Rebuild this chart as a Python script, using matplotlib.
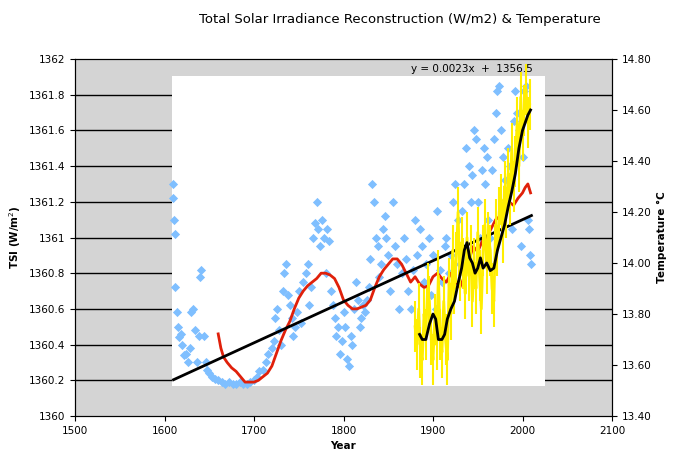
import matplotlib
matplotlib.use("Agg")
import matplotlib.pyplot as plt
import numpy as np

# TSI scatter (left axis): (year, value) pairs
tsi_points = [(1610,1361.3),(1610,1361.22),(1611,1361.1),(1612,1361.02),(1612,1360.72),(1614,1360.58),(1615,1360.5),
 (1616,1360.44),(1618,1360.46),(1620,1360.4),(1622,1360.34),(1624,1360.35),(1626,1360.3),(1628,1360.38),(1630,1360.58),
 (1632,1360.6),(1634,1360.48),(1636,1360.3),(1638,1360.45),(1640,1360.78),(1641,1360.82),(1644,1360.45),(1646,1360.3),
 (1648,1360.26),(1650,1360.24),(1653,1360.22),(1656,1360.21),(1660,1360.2),(1664,1360.19),(1668,1360.18),(1672,1360.19),
 (1676,1360.18),(1680,1360.18),(1684,1360.19),(1688,1360.18),(1692,1360.18),(1696,1360.19),(1700,1360.2),(1703,1360.22),
 (1706,1360.25),(1710,1360.26),(1713,1360.3),(1716,1360.35),(1720,1360.38),(1722,1360.42),(1724,1360.55),(1726,1360.6),
 (1728,1360.48),(1730,1360.4),(1732,1360.7),(1734,1360.8),(1736,1360.85),(1738,1360.68),(1740,1360.62),(1742,1360.55),
 (1744,1360.45),(1746,1360.5),(1748,1360.58),(1750,1360.7),(1752,1360.52),(1755,1360.75),(1758,1360.8),(1760,1360.85),
 (1762,1360.62),(1764,1360.72),(1766,1361.0),(1768,1361.08),(1770,1361.2),(1772,1361.05),(1774,1360.95),(1776,1361.1),
 (1778,1361.0),(1780,1360.8),(1782,1361.05),(1784,1360.98),(1786,1360.7),(1788,1360.62),(1790,1360.55),(1792,1360.45),
 (1794,1360.5),(1796,1360.35),(1798,1360.42),(1800,1360.58),(1802,1360.5),(1804,1360.32),(1806,1360.28),(1808,1360.45),
 (1810,1360.4),(1812,1360.6),(1814,1360.75),(1816,1360.65),(1818,1360.5),(1820,1360.55),(1822,1360.62),(1824,1360.58),
 (1826,1360.65),(1828,1360.72),(1830,1360.88),(1832,1361.3),(1834,1361.2),(1836,1361.0),(1838,1360.95),(1840,1360.78),
 (1842,1360.85),(1844,1361.05),(1846,1361.12),(1848,1361.0),(1850,1360.9),(1852,1360.7),(1855,1361.2),(1858,1360.95),
 (1860,1360.85),(1862,1360.6),(1865,1360.8),(1868,1361.0),(1870,1360.88),(1872,1360.7),(1875,1360.6),(1878,1360.82),
 (1880,1361.1),(1882,1360.9),(1885,1361.05),(1888,1360.95),(1890,1360.75),(1892,1360.85),(1895,1361.0),(1898,1360.68),
 (1900,1360.9),(1903,1360.6),(1905,1361.15),(1908,1360.82),(1910,1360.75),(1913,1360.95),(1915,1361.0),(1918,1360.8),
 (1920,1360.9),(1922,1361.2),(1925,1361.3),(1928,1361.1),(1930,1360.85),(1932,1361.15),(1935,1361.3),(1937,1361.5),
 (1940,1361.4),(1942,1361.2),(1944,1361.35),(1946,1361.6),(1948,1361.55),(1950,1361.2),(1952,1361.0),(1955,1361.38),
 (1957,1361.5),(1958,1361.3),(1960,1361.45),(1962,1361.1),(1964,1361.0),(1966,1361.38),(1968,1361.55),(1970,1361.7),
 (1972,1361.82),(1974,1361.85),(1976,1361.6),(1978,1361.45),(1980,1361.32),(1982,1361.2),(1984,1361.5),(1986,1361.4),
 (1988,1361.05),(1990,1361.65),(1992,1361.82),(1994,1361.7),(1996,1361.6),(1998,1360.95),(2000,1361.45),(2002,1361.82),
 (2004,1361.85),(2006,1361.1),(2007,1361.05),(2008,1360.9),(2010,1360.85)]
tsi_years = [p[0] for p in tsi_points]
tsi_vals = [p[1] for p in tsi_points]

# red smoothed series (left axis)
red_years = [1660,1663,1666,1670,1675,1680,1685,1690,1695,1700,1705,1710,1715,1720,1725,1730,1735,1740,1745,1750,1755,1760,1765,1770,1775,1780,1785,1790,1795,1800,1805,1810,1815,1820,1825,1830,1835,1840,1845,1850,1855,1860,1865,1870,1875,1880,1885,1890,1895,1900,1905,1910,1915,1920,1925,1930,1935,1940,1945,1950,1955,1960,1965,1970,1975,1980,1985,1990,1995,2000,2003,2006,2009]
red_vals = [1360.46,1360.38,1360.33,1360.3,1360.27,1360.25,1360.22,1360.19,1360.19,1360.19,1360.2,1360.22,1360.24,1360.28,1360.35,1360.42,1360.48,1360.53,1360.6,1360.66,1360.7,1360.73,1360.75,1360.77,1360.8,1360.8,1360.79,1360.77,1360.72,1360.65,1360.62,1360.6,1360.6,1360.61,1360.62,1360.65,1360.72,1360.78,1360.82,1360.85,1360.88,1360.88,1360.85,1360.8,1360.75,1360.78,1360.74,1360.72,1360.73,1360.78,1360.8,1360.77,1360.75,1360.8,1360.76,1360.72,1360.78,1360.87,1360.95,1360.92,1360.98,1361.0,1361.05,1361.1,1361.12,1361.15,1361.2,1361.18,1361.22,1361.25,1361.28,1361.3,1361.25]

# yellow annual temperatures (right axis)
yel_years = list(range(1880, 2009, 2))
yel_vals = [13.75,13.68,13.82,13.65,13.62,13.80,13.72,13.90,13.85,13.70,13.62,13.78,13.68,13.95,13.72,13.65,13.85,13.70,13.62,13.92,13.80,14.05,13.90,14.02,14.20,13.95,14.08,14.00,13.88,14.10,13.95,14.05,13.85,14.00,13.90,14.12,13.95,13.82,14.05,14.15,13.98,14.10,14.05,13.90,13.85,14.15,14.05,14.20,14.25,14.10,14.30,14.20,14.35,14.25,14.45,14.30,14.40,14.55,14.38,14.65,14.50,14.60,14.68,14.55,14.62]
yel_err = [0.10] * len(yel_vals)

# black smoothed temperature (right axis)
blk_years = [1885,1888,1892,1896,1900,1903,1906,1910,1913,1916,1920,1924,1928,1932,1935,1938,1941,1944,1947,1950,1953,1956,1960,1964,1968,1972,1976,1980,1984,1988,1992,1996,2000,2003,2006,2009]
blk_vals = [13.72,13.70,13.70,13.76,13.80,13.78,13.70,13.70,13.72,13.78,13.82,13.85,13.92,13.98,14.05,14.08,14.02,14.00,13.96,13.98,14.02,13.98,14.00,13.97,13.98,14.05,14.10,14.15,14.22,14.28,14.35,14.45,14.52,14.55,14.58,14.60]

fig = plt.figure(figsize=(6.86, 4.70), dpi=100)
ax = fig.add_axes([75/686, 1-416/470, (612-75)/686, (416-59)/470])
ax.set_facecolor("#d4d4d4")
ax.set_xlim(1500, 2100)
ax.set_ylim(1360, 1362)
yt = np.arange(1360, 1362.01, 0.2)
ax.set_yticks(yt)
ax.set_yticklabels([("%g" % round(v, 1)) for v in yt])
ax.set_xticks(range(1500, 2101, 100))
for v in yt[1:-1]:
    ax.axhline(v, color="black", lw=1, zorder=0.5)
wr = plt.Rectangle(((172-75)/537, (416-386)/357), (545-172)/537, (386-76)/357,
                   transform=ax.transAxes, facecolor="white", edgecolor="none", zorder=0.8)
ax.add_patch(wr)
ax.scatter(tsi_years, tsi_vals, marker="D", s=22, color="#7fbfff", zorder=2, linewidths=0)
ax.plot(red_years, red_vals, color="#e0200a", lw=2, zorder=4)
xs = np.array([1610, 2010])
ax.plot(xs, 0.0023*xs + 1356.5, color="black", lw=2, zorder=5)
ax.text(1875, 1361.97, "y = 0.0023x  +  1356.5", fontsize=7.5, ha="left", va="top")
ax.set_xlabel("Year", fontsize=7.5, fontweight="bold")
ax.set_ylabel("TSI (W/m$^2$)", fontsize=7.5, fontweight="bold")
ax.tick_params(labelsize=7.5)

ax2 = ax.twinx()
ax2.set_ylim(13.4, 14.8)
ax2.set_yticks(np.arange(13.4, 14.81, 0.2))
ax2.set_yticklabels(["%.2f" % v for v in np.arange(13.4, 14.81, 0.2)])
ax2.errorbar(yel_years, yel_vals, yerr=yel_err, color="#ffee00", lw=2, elinewidth=1.5, zorder=3)
ax2.plot(blk_years, blk_vals, color="black", lw=2, zorder=6)
ax2.set_ylabel("Temperature \u00b0C", fontsize=7.5, fontweight="bold")
ax2.tick_params(labelsize=7.5)

fig.text(400/686, 1-20/470, "Total Solar Irradiance Reconstruction (W/m2) & Temperature",
         ha="center", va="center", fontsize=9.5)
fig.savefig("out.png", dpi=100)
